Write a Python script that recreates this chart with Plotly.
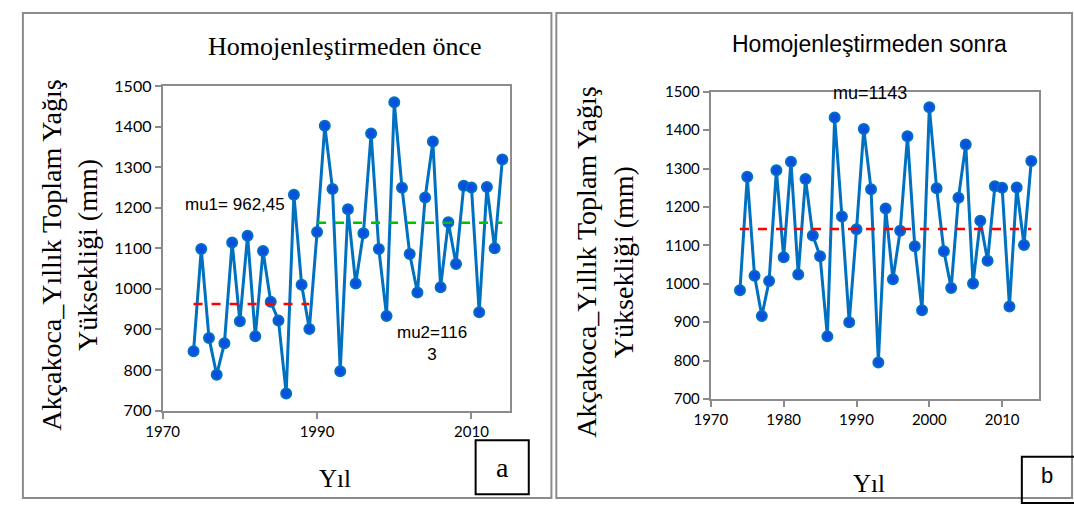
import plotly.graph_objects as go

years = list(range(1974, 2015))
before = [846, 1098, 879, 788, 866, 1114, 920, 1131, 883, 1093, 968, 922, 742, 1232, 1010, 901,
          1140, 1402, 1246, 797, 1196, 1013, 1137, 1383, 1098, 933, 1460, 1249, 1086, 991, 1225,
          1363, 1004, 1164, 1061, 1254, 1250, 942, 1251, 1100, 1319]
after = [983, 1279, 1021, 916, 1007, 1296, 1069, 1318, 1024, 1273, 1126, 1072, 863, 1433, 1175, 900,
         1142, 1403, 1246, 795, 1196, 1012, 1138, 1384, 1098, 931, 1460, 1249, 1085, 989, 1224,
         1363, 1001, 1164, 1060, 1254, 1250, 941, 1251, 1101, 1320]
mu1_years = [1974, 1989]
mu1 = 962.45
mu2_years = [1990, 2014]
mu2 = 1163
mu_years = [1974, 2014]
mu = 1143

W, H = 1074, 510
def px(x): return x / W
def py(y): return 1 - y / H

LINE = "#0070C0"
MARK = "#0A4FE0"
GRID = "#8C8C8C"

fig = go.Figure()
fig.add_trace(go.Scatter(x=years, y=before, mode="lines+markers", xaxis="x", yaxis="y",
                         line=dict(color=LINE, width=3),
                         marker=dict(color=MARK, size=10, line=dict(color=LINE, width=2)),
                         showlegend=False))
fig.add_trace(go.Scatter(x=mu1_years, y=[mu1, mu1], mode="lines", xaxis="x", yaxis="y",
                         line=dict(color="#FF0000", width=2.5, dash="dash"), showlegend=False))
fig.add_trace(go.Scatter(x=mu2_years, y=[mu2, mu2], mode="lines", xaxis="x", yaxis="y",
                         line=dict(color="#00C000", width=2.5, dash="dash"), showlegend=False))
fig.add_trace(go.Scatter(x=years, y=after, mode="lines+markers", xaxis="x2", yaxis="y2",
                         line=dict(color=LINE, width=3),
                         marker=dict(color=MARK, size=10, line=dict(color=LINE, width=2)),
                         showlegend=False))
fig.add_trace(go.Scatter(x=mu_years, y=[mu, mu], mode="lines", xaxis="x2", yaxis="y2",
                         line=dict(color="#FF0000", width=2.5, dash="dash"), showlegend=False))

def axis_common(size):
    return dict(showgrid=False, zeroline=False, showline=True, linecolor=GRID, linewidth=2,
                mirror=True, ticks="outside", ticklen=6, tickcolor=GRID, tickwidth=2,
                tickfont=dict(family="Lato, sans-serif", size=size, color="#000"))

fig.update_layout(
    width=W, height=H, autosize=False, margin=dict(l=0, r=0, t=0, b=0),
    paper_bgcolor="white", plot_bgcolor="white",
    xaxis=dict(domain=[px(148), px(501)], range=[1970, 2015], tickvals=[1970, 1990, 2010],
               anchor="y", **axis_common(15)),
    yaxis=dict(domain=[py(416), py(79)], range=[700, 1500], dtick=100, anchor="x", **axis_common(16)),
    xaxis2=dict(domain=[px(705), px(1038)], range=[1970, 2015], dtick=10,
                anchor="y2", **axis_common(15)),
    yaxis2=dict(domain=[py(404), py(85)], range=[700, 1500], dtick=100, anchor="x2", **axis_common(15)),
)

serif = "Liberation Serif, Times New Roman, serif"
sans = "Liberation Sans, Arial, sans-serif"
ann = []
ann.append(dict(text="Homojenleştirmeden önce", x=px(333), y=py(38), font=dict(family=serif, size=26)))
ann.append(dict(text="Homojenleştirmeden sonra", x=px(866), y=py(35), font=dict(family=sans, size=23)))
ytitle = "Akçakoca_Yıllık Toplam Yağış<br>Yüksekliği (mm)"
ann.append(dict(text=ytitle, x=px(53), y=py(255), textangle=-90, font=dict(family=serif, size=28)))
ann.append(dict(text=ytitle, x=px(597), y=py(262), textangle=-90, font=dict(family=serif, size=28)))
ann.append(dict(text="Yıl", x=px(323), y=py(487), font=dict(family=serif, size=25)))
ann.append(dict(text="Yıl", x=px(866), y=py(492), font=dict(family=serif, size=25)))
ann.append(dict(text="a", x=px(493), y=py(475), font=dict(family=serif, size=28)))
ann.append(dict(text="b", x=px(1047), y=py(483), font=dict(family=sans, size=22)))
ann.append(dict(text="mu1= 962,45", x=px(222), y=py(202), font=dict(family=sans, size=17)))
ann.append(dict(text="mu2=116<br>3", x=px(422), y=py(346), font=dict(family=sans, size=17)))
ann.append(dict(text="mu=1143", x=px(867), y=py(86), font=dict(family=sans, size=18)))
for a in ann:
    a.update(xref="paper", yref="paper", showarrow=False, xanchor="center", yanchor="middle")
    a["font"]["color"] = "#000"
fig.update_layout(annotations=ann)

shapes = [
    dict(type="rect", x0=px(6), x1=px(543), y0=py(507), y1=py(3), line=dict(color="#8C8C8C", width=2)),
    dict(type="rect", x0=px(548), x1=px(1072), y0=py(507), y1=py(3), line=dict(color="#8C8C8C", width=2)),
    dict(type="rect", x0=px(466), x1=px(520), y0=py(503), y1=py(447), line=dict(color="#000", width=2)),
    dict(type="rect", x0=px(1021), x1=px(1076), y0=py(512), y1=py(464), line=dict(color="#000", width=2)),
]
for s in shapes:
    s.update(xref="paper", yref="paper")
fig.update_layout(shapes=shapes)

fig.write_html("out.html")
